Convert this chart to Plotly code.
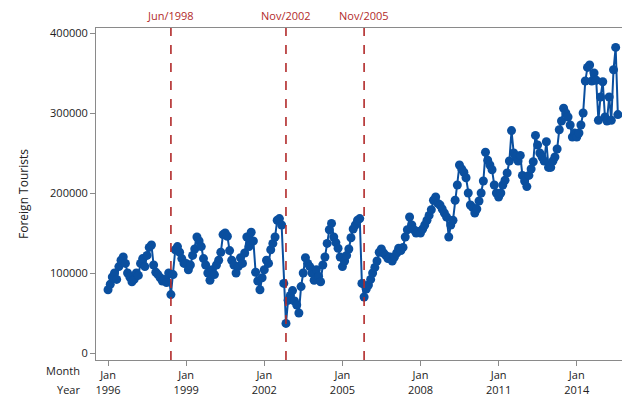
import pandas as pd
import plotly.graph_objects as go

# Monthly foreign tourist arrivals, Jan 1996 onwards
start_month = "1996-01-01"
tourists = [
    # 1996
    79000, 86000, 95000, 100000, 92000, 108000, 116000, 120000, 112000, 100000, 95000, 89000,
    # 1997
    92000, 100000, 97000, 112000, 118000, 108000, 122000, 132000, 135000, 110000, 101000, 98000,
    # 1998
    94000, 90000, 92000, 88000, 100000, 73000, 98000, 129000, 133000, 126000, 118000, 112000,
    # 1999
    112000, 104000, 110000, 122000, 130000, 145000, 140000, 133000, 118000, 110000, 100000, 91000,
    # 2000
    104000, 98000, 110000, 116000, 126000, 148000, 150000, 146000, 128000, 116000, 110000, 100000,
    # 2001
    108000, 119000, 112000, 125000, 145000, 133000, 151000, 140000, 101000, 90000, 79000, 94000,
    # 2002
    104000, 116000, 112000, 129000, 137000, 145000, 166000, 168000, 160000, 87000, 37000, 66000,
    # 2003
    72000, 78000, 65000, 60000, 50000, 83000, 100000, 119000, 112000, 108000, 100000, 91000,
    # 2004
    104000, 96000, 89000, 110000, 120000, 137000, 154000, 162000, 145000, 138000, 131000, 120000,
    # 2005
    108000, 115000, 122000, 130000, 144000, 155000, 160000, 166000, 168000, 87000, 70000, 80000,
    # 2006
    85000, 92000, 100000, 107000, 115000, 126000, 130000, 125000, 122000, 118000, 120000, 115000,
    # 2007
    120000, 125000, 131000, 128000, 132000, 145000, 154000, 170000, 160000, 154000, 150000, 152000,
    # 2008
    150000, 155000, 160000, 166000, 172000, 179000, 191000, 195000, 187000, 185000, 180000, 175000,
    # 2009
    170000, 145000, 160000, 166000, 191000, 210000, 235000, 230000, 226000, 219000, 200000, 185000,
    # 2010
    182000, 175000, 180000, 190000, 200000, 215000, 251000, 241000, 235000, 229000, 210000, 200000,
    # 2011
    195000, 200000, 210000, 216000, 225000, 240000, 278000, 250000, 245000, 240000, 247000, 222000,
    # 2012
    215000, 208000, 222000, 230000, 239000, 272000, 260000, 250000, 245000, 240000, 264000, 232000,
    # 2013
    232000, 240000, 245000, 255000, 279000, 290000, 306000, 300000, 295000, 285000, 270000, 275000,
    # 2014
    270000, 275000, 285000, 300000, 340000, 357000, 360000, 340000, 350000, 341000, 291000, 320000,
    # 2015
    339000, 295000, 290000, 320000, 291000, 354000, 382000, 298000,
]

# Structural-change markers
event_dates = ["1998-06-01", "2002-11-01", "2005-11-01"]
event_labels = ["Jun/1998", "Nov/2002", "Nov/2005"]

# Axis ticks
tick_dates = ["1996-01-01", "1999-01-01", "2002-01-01", "2005-01-01",
              "2008-01-01", "2011-01-01", "2014-01-01"]
tick_months = ["Jan"] * len(tick_dates)
tick_years = ["1996", "1999", "2002", "2005", "2008", "2011", "2014"]
y_ticks = [0, 100000, 200000, 300000, 400000]

months = pd.date_range(start_month, periods=len(tourists), freq="MS")

series_color = "#0a4f9f"
event_color = "#b22a2a"
axis_color = "#8a8a8a"
font_family = "Open Sans, Segoe UI, Tahoma, sans-serif"

fig = go.Figure()
fig.add_trace(go.Scatter(
    x=months, y=tourists, mode="lines+markers",
    line=dict(color=series_color, width=2),
    marker=dict(color=series_color, size=9),
    hoverinfo="skip", showlegend=False,
))

for d, lab in zip(event_dates, event_labels):
    fig.add_shape(type="line", xref="x", yref="paper", x0=d, x1=d, y0=0, y1=1,
                  line=dict(color=event_color, width=1.6, dash="dash"))
    fig.add_annotation(x=d, xref="x", y=1, yref="paper", yanchor="bottom",
                       yshift=3, text=lab, showarrow=False,
                       font=dict(color=event_color, size=11, family=font_family))

# Row captions for the two-level time axis
fig.add_annotation(x=-0.027, xref="paper", y=-0.033, yref="paper", xanchor="right",
                   yanchor="middle", text="Month", showarrow=False,
                   font=dict(color="#222", size=11, family=font_family))
fig.add_annotation(x=-0.027, xref="paper", y=-0.09, yref="paper", xanchor="right",
                   yanchor="middle", text="Year", showarrow=False,
                   font=dict(color="#222", size=11, family=font_family))

fig.update_xaxes(
    range=["1995-07-16", "2015-09-28"],
    tickmode="array", tickvals=tick_dates,
    ticktext=[f"{m}<br>{y}" for m, y in zip(tick_months, tick_years)],
    ticks="outside", ticklen=5, tickcolor=axis_color,
    showline=True, linecolor=axis_color, linewidth=1, mirror=True,
    showgrid=False, zeroline=False,
    tickfont=dict(color="#222", size=11, family=font_family),
)
fig.update_yaxes(
    range=[-8750, 406250],
    tickmode="array", tickvals=y_ticks, ticktext=[str(v) for v in y_ticks],
    ticks="outside", ticklen=5, tickcolor=axis_color,
    showline=True, linecolor=axis_color, linewidth=1,
    showgrid=False, zeroline=False,
    tickfont=dict(color="#222", size=11, family=font_family),
    title=dict(text="Foreign Tourists", standoff=18,
               font=dict(color="#222", size=12, family=font_family)),
)

fig.update_layout(
    width=622, height=399,
    margin=dict(l=96, r=0, t=28, b=39),
    paper_bgcolor="white", plot_bgcolor="white",
)

fig.write_html("out.html")
